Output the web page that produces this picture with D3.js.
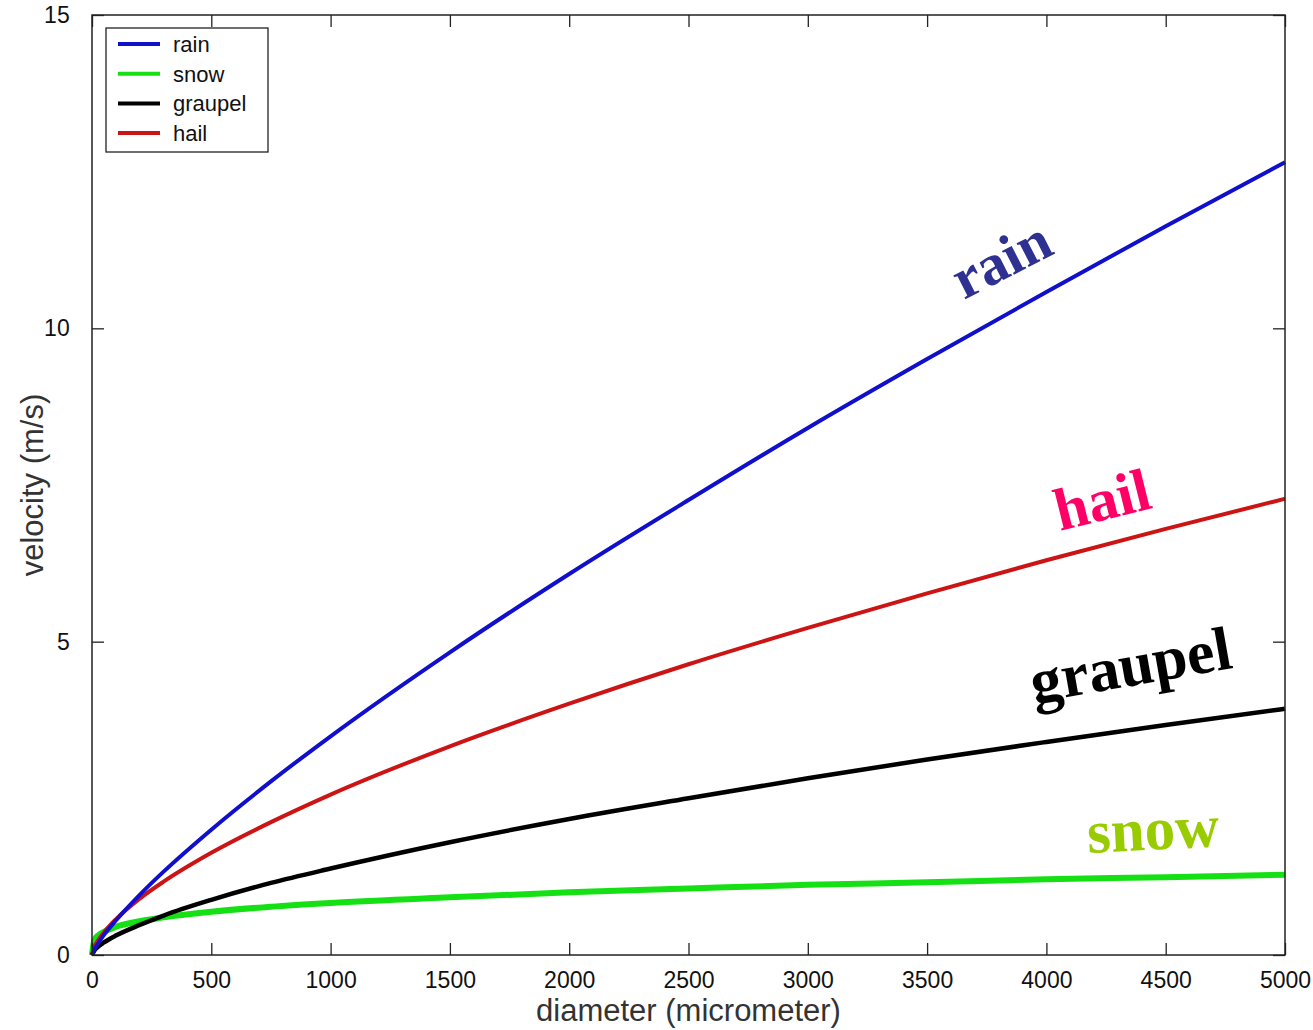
<!DOCTYPE html>
<html>
<head>
<meta charset="utf-8">
<script src="https://cdn.jsdelivr.net/npm/d3@7"></script>
<style>
  html, body { margin: 0; padding: 0; background: #fff; }
  svg { display: block; }
</style>
</head>
<body>
<svg id="chart"></svg>
<script>
const diameters = [0, 10, 25, 50, 100, 200, 300, 500, 750, 1000, 1500, 2000, 2500, 3000, 3500, 4000, 4500, 5000];

// terminal velocities (m/s)
const rain    = [0, 0.09, 0.18, 0.32, 0.55, 0.96, 1.33, 2.00, 2.77, 3.49, 4.83, 6.08, 7.26, 8.41, 9.51, 10.58, 11.63, 12.65];
const snow    = [0, 0.24, 0.31, 0.37, 0.45, 0.54, 0.60, 0.69, 0.77, 0.83, 0.92, 1.00, 1.06, 1.12, 1.16, 1.21, 1.24, 1.28];
const graupel = [0, 0.07, 0.13, 0.20, 0.31, 0.48, 0.63, 0.88, 1.15, 1.38, 1.80, 2.17, 2.50, 2.82, 3.12, 3.40, 3.67, 3.93];
const hail    = [0, 0.13, 0.23, 0.36, 0.57, 0.90, 1.17, 1.63, 2.12, 2.56, 3.33, 4.01, 4.64, 5.22, 5.77, 6.30, 6.80, 7.28];

const seriesNames = ['rain', 'snow', 'graupel', 'hail'];
const seriesValues = [rain, snow, graupel, hail];

const xTicks = [0, 500, 1000, 1500, 2000, 2500, 3000, 3500, 4000, 4500, 5000];
const yTicks = [0, 5, 10, 15];

const lineColor = { rain: '#1010cc', snow: '#14e014', graupel: '#000000', hail: '#cc1414' };
const lineWidth = { rain: 4, snow: 6, graupel: 4.5, hail: 4 };

// big rotated labels next to the curves
const labelColor = { rain: '#2e3192', snow: '#99cc00', graupel: '#000000', hail: '#ff0066' };
const labelPos = {
  rain:    { x: 964,  y: 300, angle: -27, size: 58 },
  hail:    { x: 1060, y: 531, angle: -14, size: 60 },
  graupel: { x: 1034, y: 703, angle: -10, size: 62 },
  snow:    { x: 1088, y: 853, angle: -3,  size: 61 },
};

const width = 1313, height = 1030;
const margin = { top: 15, right: 28, bottom: 75, left: 92 };
const innerW = width - margin.left - margin.right;
const innerH = height - margin.top - margin.bottom;

const sans = '"Liberation Sans", Arial, sans-serif';
const serif = '"Liberation Serif", "Times New Roman", serif';

const svg = d3.select('#chart').attr('width', width).attr('height', height);

const x = d3.scaleLinear().domain([0, 5000]).range([margin.left, margin.left + innerW]);
const y = d3.scaleLinear().domain([0, 15]).range([margin.top + innerH, margin.top]);

const frameColor = '#222';
const tickLen = 12;

// curves
const line = d3.line()
  .x((d) => x(d[0]))
  .y((d) => y(d[1]))
  .curve(d3.curveMonotoneX);

const drawOrder = ['snow', 'graupel', 'hail', 'rain'];
drawOrder.forEach((name) => {
  const vals = seriesValues[seriesNames.indexOf(name)];
  svg.append('path')
    .datum(diameters.map((d, i) => [d, vals[i]]))
    .attr('fill', 'none')
    .attr('stroke', lineColor[name])
    .attr('stroke-width', lineWidth[name])
    .attr('stroke-linejoin', 'round')
    .attr('d', line);
});

// axes, ticks inward, mirrored on top/right
const fmt = d3.format('d');
const axBottom = svg.append('g').attr('transform', `translate(0,${y(0)})`)
  .call(d3.axisBottom(x).tickValues(xTicks).tickFormat(fmt).tickSizeInner(-tickLen).tickSizeOuter(0).tickPadding(20));
const axTop = svg.append('g').attr('transform', `translate(0,${y(15)})`)
  .call(d3.axisTop(x).tickValues(xTicks).tickSizeInner(-tickLen).tickSizeOuter(0).tickFormat(''));
const axLeft = svg.append('g').attr('transform', `translate(${x(0)},0)`)
  .call(d3.axisLeft(y).tickValues(yTicks).tickFormat(fmt).tickSizeInner(-tickLen).tickSizeOuter(0).tickPadding(20));
const axRight = svg.append('g').attr('transform', `translate(${x(5000)},0)`)
  .call(d3.axisRight(y).tickValues(yTicks).tickSizeInner(-tickLen).tickSizeOuter(0).tickFormat(''));

[axBottom, axTop, axLeft, axRight].forEach((g) => {
  g.select('.domain').remove();
  g.selectAll('.tick line').attr('stroke', frameColor).attr('stroke-width', 1.3);
  g.selectAll('.tick text')
    .attr('fill', '#111')
    .style('font-size', '23px')
    .style('font-family', sans);
});
axBottom.selectAll('.tick text').attr('dy', '0.55em');
axLeft.selectAll('.tick text').attr('dx', '-0.1em');

svg.append('rect')
  .attr('x', x(0)).attr('y', y(15))
  .attr('width', x(5000) - x(0)).attr('height', y(0) - y(15))
  .attr('fill', 'none')
  .attr('stroke', frameColor)
  .attr('stroke-width', 1.5);

// axis titles
svg.append('text')
  .attr('x', (x(0) + x(5000)) / 2)
  .attr('y', 1021)
  .attr('text-anchor', 'middle')
  .style('font-size', '31px')
  .style('font-family', sans)
  .attr('fill', '#333')
  .text('diameter (micrometer)');

svg.append('text')
  .attr('transform', `translate(43,${(y(0) + y(15)) / 2}) rotate(-90)`)
  .attr('text-anchor', 'middle')
  .style('font-size', '31px')
  .style('font-family', sans)
  .attr('fill', '#333')
  .text('velocity (m/s)');

// legend
const legend = svg.append('g').attr('transform', 'translate(106,28)');
legend.append('rect')
  .attr('width', 162).attr('height', 124)
  .attr('fill', '#fff')
  .attr('stroke', frameColor)
  .attr('stroke-width', 1.3);

seriesNames.forEach((name, i) => {
  const ly = 16 + i * 29.7;
  legend.append('line')
    .attr('x1', 12).attr('x2', 54)
    .attr('y1', ly).attr('y2', ly)
    .attr('stroke', lineColor[name])
    .attr('stroke-width', 4);
  legend.append('text')
    .attr('x', 67).attr('y', ly)
    .attr('dy', '0.36em')
    .style('font-size', '22px')
    .style('font-family', sans)
    .attr('fill', '#111')
    .text(name);
});

// curve annotations
seriesNames.forEach((name) => {
  const p = labelPos[name];
  svg.append('text')
    .attr('transform', `translate(${p.x},${p.y}) rotate(${p.angle})`)
    .style('font-family', serif)
    .style('font-weight', 'bold')
    .style('font-size', `${p.size}px`)
    .attr('fill', labelColor[name])
    .text(name);
});
</script>
</body>
</html>
